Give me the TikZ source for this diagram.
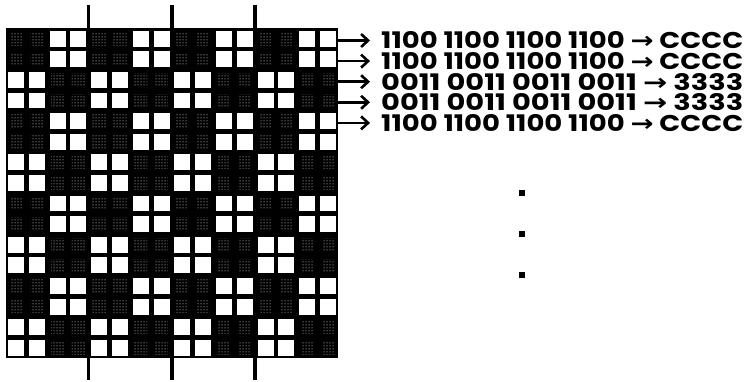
\documentclass[tikz,border=0pt]{standalone}
\usepackage{fontspec}
\setmainfont{Poppins}
\newfontfamily\arrowfont{DejaVu Sans}
\usetikzlibrary{arrows.meta,patterns}

\newcommand{\bitline}[2]{\resizebox{362pt}{17pt}{\bfseries #1 \smash{\arrowfont\bfseries →} #2}}

\begin{document}
\begin{tikzpicture}[x=1pt,y=-1pt,
    tick/.style={line width=3.5pt},
    light/.style={fill=white},
    dark/.style={pattern=dots,pattern color=white},
    bitarrow/.style={-{Straight Barb[length=7pt,width=13pt]},line width=2.6pt,shorten >=11pt},
    bits/.style={anchor=west,inner sep=0pt}]
  \useasboundingbox (0,0) rectangle (750,382);
  % board
  \fill (5.5,28.5) rectangle (338.3,358.1);
  \foreach \r in {0,...,15}
    \foreach \c in {0,...,15}{
      \pgfmathtruncatemacro{\on}{mod(floor(\r/2)+floor(\c/2),2)}
      \ifnum\on=0
        \fill[dark] ({5.5+20.8*\c+4},{28.5+20.6*\r+4}) rectangle ({5.5+20.8*\c+16.8},{28.5+20.6*\r+16.6});
      \else
        \fill[light] ({5.5+20.8*\c+2.4},{28.5+20.6*\r+2.4}) rectangle ({5.5+20.8*\c+18.4},{28.5+20.6*\r+18.2});
      \fi
    }
  % ticks
  \foreach \c in {4,8,12}{
    \draw[tick] ({5.5+20.8*\c},5) -- ({5.5+20.8*\c},28.5);
    \draw[tick] ({5.5+20.8*\c},358.1) -- ({5.5+20.8*\c},380);
  }
  % rows read out
  \foreach \r/\b/\h in {0/1100/CCCC,1/1100/CCCC,2/0011/3333,3/0011/3333,4/1100/CCCC}{
    \coordinate (e\r) at (338.3,{28.5+20.6*\r+12});
    \node[bits] (w\r) at (381,{28.5+20.6*\r+12}) {\bitline{\b\ \b\ \b\ \b}{\h}};
    \draw[bitarrow] (e\r) -- (w\r.west);
  }
  % more rows
  \foreach \y in {193,234,275}
    \fill (519,{\y-3}) rectangle (525,{\y+3});
\end{tikzpicture}
\end{document}
